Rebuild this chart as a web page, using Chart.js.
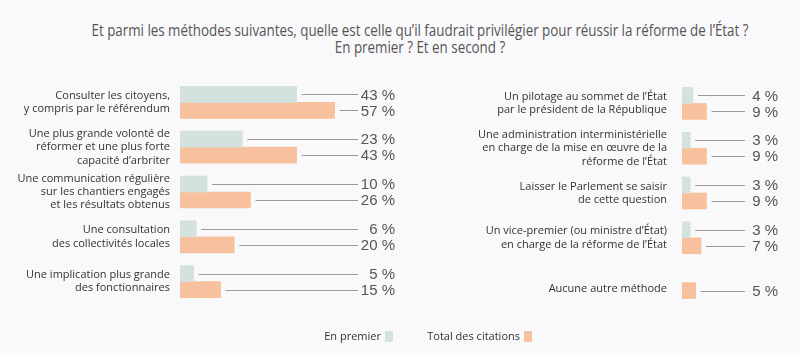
<!DOCTYPE html>
<html><head><meta charset="utf-8">
<script src="https://cdn.jsdelivr.net/npm/chart.js@4.4.0/dist/chart.umd.min.js"></script>
<style>
html,body{margin:0;padding:0;background:#f9f9fb;width:800px;height:355px;overflow:hidden;}
#wrap{position:relative;width:800px;height:355px;}
.tl{position:absolute;left:420px;white-space:nowrap;font-family:"Open Sans",sans-serif;font-size:16px;line-height:18px;color:#555;transform-origin:0 50%;}
canvas{position:absolute;top:0;}
#c1{left:0;}
#c2{left:400px;}
.leg{position:absolute;top:328px;font-family:"Open Sans",sans-serif;font-size:11px;color:#333;line-height:16px;white-space:nowrap;}
.leg span.box{position:absolute;top:3px;width:8px;height:11px;}
</style></head>
<body><div id="wrap">
<div id="title"></div>
<canvas id="c1" width="400" height="355"></canvas>
<canvas id="c2" width="400" height="355"></canvas>
<div id="legend"></div>
</div>
<script>
const titleLines = [
  "Et parmi les méthodes suivantes, quelle est celle qu’il faudrait privilégier pour réussir la réforme de l’État ?",
  "En premier ? Et en second ?"
];
const seriesNames = ["En premier", "Total des citations"];
const seriesColors = ["#d3e2df", "#f8c19d"];

const categoriesLeft = [
  ["Consulter les citoyens,", "y compris par le référendum"],
  ["Une plus grande volonté de", "réformer et une plus forte", "capacité d’arbriter"],
  ["Une communication régulière", "sur les chantiers engagés", "et les résultats obtenus"],
  ["Une consultation", "des collectivités locales"],
  ["Une implication plus grande", "des fonctionnaires"]
];
const premierLeft = [43, 23, 10, 6, 5];
const totalLeft = [57, 43, 26, 20, 15];

const categoriesRight = [
  ["Un pilotage au sommet de l’État", "par le président de la République"],
  ["Une administration interministérielle", "en charge de la mise en œuvre de la", "réforme de l’État"],
  ["Laisser le Parlement se saisir", "de cette question"],
  ["Un vice-premier (ou ministre d’État)", "en charge de la réforme de l’État"],
  ["", "Aucune autre méthode"]
];
const premierRight = [4, 3, 3, 3, null];
const totalRight = [9, 9, 9, 7, 5];

// Title: condensed look obtained by horizontal scaling to the reference width
(function () {
  const t = document.getElementById('title');
  const tops = [21, 38];
  let scale = null;
  titleLines.forEach((line, i) => {
    const d = document.createElement('div');
    d.className = 'tl';
    d.style.top = tops[i] + 'px';
    d.textContent = line;
    t.appendChild(d);
    const w = d.getBoundingClientRect().width;
    if (scale === null) scale = 657 / w;
    d.style.transform = 'translateX(' + (-w * scale / 2) + 'px) scaleX(' + scale + ')';
  });
})();

function valueLabels(lineEnd, textRight) {
  return {
    id: 'valueLabels',
    afterDatasetsDraw(chart) {
      const ctx = chart.ctx;
      ctx.save();
      chart.data.datasets.forEach((ds, di) => {
        const meta = chart.getDatasetMeta(di);
        meta.data.forEach((el, i) => {
          const v = ds.data[i];
          if (v === null || v === undefined) return;
          const y = Math.round(el.y) + 0.5;
          ctx.strokeStyle = '#9a9a9a';
          ctx.lineWidth = 1;
          ctx.beginPath();
          ctx.moveTo(el.x + 5, y);
          ctx.lineTo(lineEnd, y);
          ctx.stroke();
          ctx.fillStyle = '#555';
          ctx.font = '15px "Liberation Sans", Arial, sans-serif';
          ctx.textAlign = 'right';
          ctx.textBaseline = 'middle';
          ctx.fillText(v + ' %', textRight, el.y + 1);
        });
      });
      ctx.restore();
    }
  };
}

function makeChart(id, cats, d1, d2, axisWidth, tickPad, xMax, pad, lineEnd, textRight) {
  return new Chart(document.getElementById(id), {
    type: 'bar',
    data: {
      labels: cats,
      datasets: [
        { label: seriesNames[0], data: d1, backgroundColor: seriesColors[0], borderWidth: 0,
          barThickness: 16, categoryPercentage: 0.85, barPercentage: 0.84 },
        { label: seriesNames[1], data: d2, backgroundColor: seriesColors[1], borderWidth: 0,
          barThickness: 16, categoryPercentage: 0.85, barPercentage: 0.84 }
      ]
    },
    options: {
      indexAxis: 'y',
      responsive: false,
      animation: false,
      layout: { padding: pad },
      plugins: { legend: { display: false }, title: { display: false }, tooltip: { enabled: false } },
      scales: {
        x: { display: false, min: 0, max: xMax },
        y: {
          afterFit(scale) { scale.width = axisWidth; },
          grid: { display: false, drawTicks: false },
          border: { display: false },
          ticks: {
            padding: tickPad,
            color: '#333',
            font: { family: '"Open Sans", sans-serif', size: 11, lineHeight: 1.2 }
          }
        }
      }
    },
    plugins: [valueLabels(lineEnd, textRight)]
  });
}

makeChart('c1', categoriesLeft, premierLeft, totalLeft, 180, 10, 80,
  { left: 0, right: 3, top: 80, bottom: 51 }, 358, 395);
makeChart('c2', categoriesRight, premierRight, totalRight, 282, 15, 40,
  { left: 0, right: 9, top: 81, bottom: 50 }, 345, 378);

// HTML legend built from series arrays
const legend = document.getElementById('legend');
const legPos = [{ right: 800 - 381, box: 385 }, { right: 800 - 520, box: 524 }];
seriesNames.forEach((n, i) => {
  const t = document.createElement('div');
  t.className = 'leg';
  t.style.right = legPos[i].right + 'px';
  t.textContent = n;
  legend.appendChild(t);
  const b = document.createElement('div');
  b.className = 'leg';
  b.style.left = legPos[i].box + 'px';
  b.innerHTML = '<span class="box" style="background:' + seriesColors[i] + '"></span>';
  legend.appendChild(b);
});
</script>
</body></html>
